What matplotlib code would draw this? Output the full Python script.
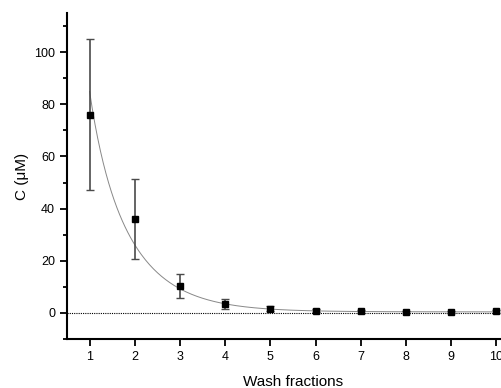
import matplotlib
matplotlib.use("Agg")
import matplotlib.pyplot as plt
from matplotlib.ticker import MultipleLocator
import numpy as np

plt.rcParams['font.family'] = ['Liberation Sans', 'DejaVu Sans']

# measured concentration per wash fraction
fractions = [1, 2, 3, 4, 5, 6, 7, 8, 9, 10]
conc = [76.0, 36.0, 10.3, 3.5, 1.6, 0.9, 0.6, 0.4, 0.3, 0.6]
conc_err = [29.0, 15.5, 4.6, 1.9, 1.0, 0.5, 0.5, 0.5, 0.3, 0.6]

# exponential decay fit (parameters)
fit_y0 = 0.4
fit_a1, fit_t1 = 72.5, 0.95
fit_a2, fit_t2 = 12.0, 0.3

xfit = np.linspace(1, 10, 300)
yfit = (fit_y0 + fit_a1 * np.exp(-(xfit - 1) / fit_t1)
        + fit_a2 * np.exp(-(xfit - 1) / fit_t2))

fig = plt.figure(figsize=(5.01, 3.88), dpi=100)
ax = fig.add_axes([0.1337, 0.1263, 0.902, 0.8402])

ax.axhline(0, color='black', lw=0.8, ls=(0, (1, 1)), zorder=1)
ax.plot(xfit, yfit, color='#888888', lw=0.7, zorder=2)
ax.errorbar(fractions, conc, yerr=conc_err, fmt='s', color='black',
            ecolor='#4a4a4a', elinewidth=1.2, capsize=3, capthick=1.0,
            markersize=4, zorder=3)

ax.set_xlim(0.5, 10.5)
ax.set_ylim(-10, 115)
ax.xaxis.set_major_locator(MultipleLocator(1))
ax.yaxis.set_major_locator(MultipleLocator(20))
ax.yaxis.set_minor_locator(MultipleLocator(10))
ax.set_yticks([0, 20, 40, 60, 80, 100])

for s in ['top', 'right']:
    ax.spines[s].set_visible(False)
for s in ['left', 'bottom']:
    ax.spines[s].set_linewidth(1.5)

ax.tick_params(axis='both', which='major', direction='out', length=5,
               width=1.3, labelsize=9)
ax.tick_params(axis='y', which='minor', direction='out', length=3, width=1.3)

ax.set_xlabel('Wash fractions', fontsize=11, labelpad=9)
ax.set_ylabel('C (\u03bcM)', fontsize=11, labelpad=4)

fig.savefig('out.png', dpi=100)
